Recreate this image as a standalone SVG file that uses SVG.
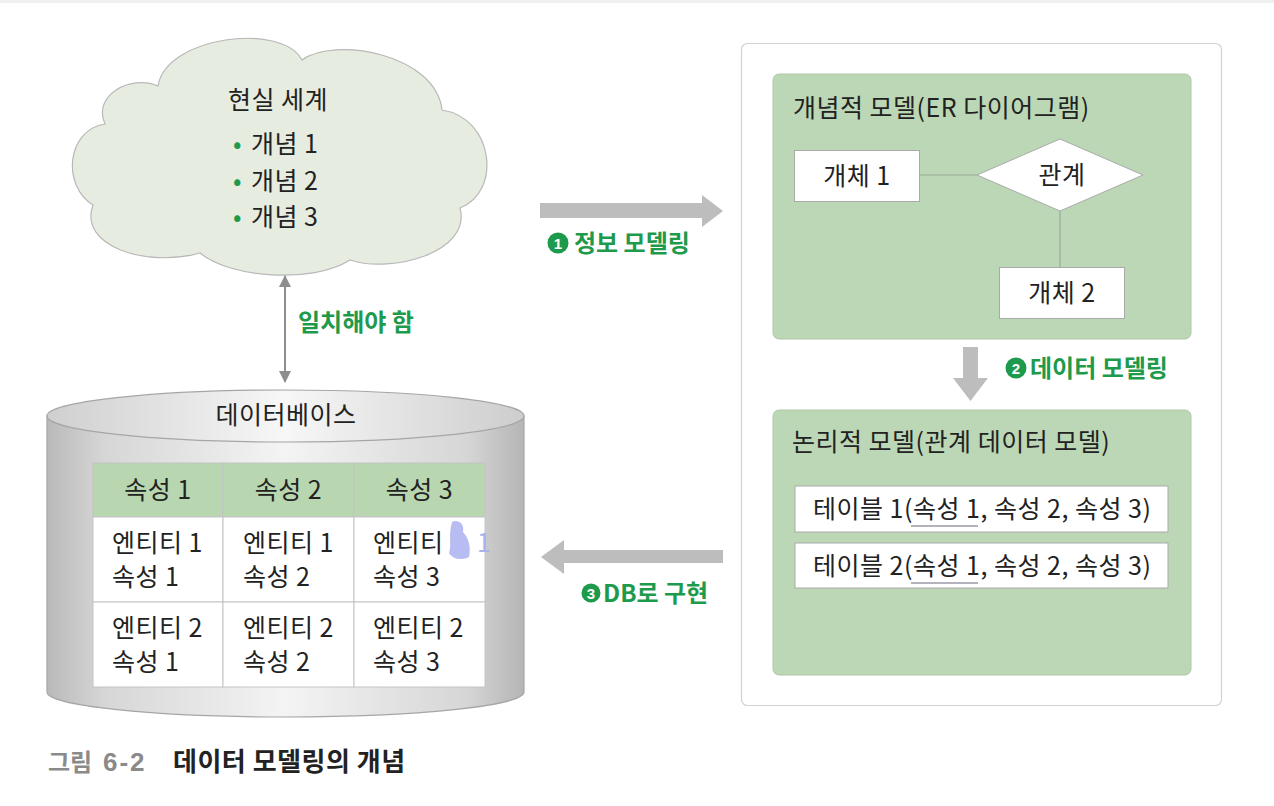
<svg xmlns="http://www.w3.org/2000/svg" width="1274" height="806" viewBox="0 0 1274 806">
<defs>
<style>
.t{font-family:"Noto Sans CJK KR","Noto Sans",sans-serif;font-size:25px;letter-spacing:0.5px;fill:#222}
.c{text-anchor:middle}
.g{font-family:"Noto Sans CJK KR","Noto Sans",sans-serif;font-size:24px;font-weight:bold;fill:#1e9a4c}
.nc{fill:#1e9a4c}
.nd{font-family:"Liberation Sans",sans-serif;font-size:15px;font-weight:bold;fill:#fff;text-anchor:middle}
.box{fill:#fff;stroke:#aaa;stroke-width:1}
.green{fill:#bcd7b5;stroke:#b0c9a9;stroke-width:1}
.fat{fill:#bdbdbd}
.cell{fill:#fff;stroke:#c4c4c4;stroke-width:1}
.hdr{fill:#b8d6b0;stroke:#c4c4c4;stroke-width:1}
.thin{stroke:#9aa99a;stroke-width:1.2;fill:none}
.ul{stroke:#9a9aa8;stroke-width:1.6}
</style>
<linearGradient id="body" x1="0" y1="0" x2="1" y2="0">
<stop offset="0" stop-color="#b9b9b9"/>
<stop offset="0.12" stop-color="#d6d6d6"/>
<stop offset="0.5" stop-color="#f4f4f4"/>
<stop offset="0.88" stop-color="#d6d6d6"/>
<stop offset="1" stop-color="#b5b5b5"/>
</linearGradient>
<linearGradient id="top" x1="0" y1="0" x2="1" y2="0">
<stop offset="0" stop-color="#cfcfcf"/>
<stop offset="0.5" stop-color="#f7f7f7"/>
<stop offset="1" stop-color="#cdcdcd"/>
</linearGradient>
<marker id="ah" viewBox="0 0 12 12" refX="11" refY="6" markerWidth="12" markerHeight="12" markerUnits="userSpaceOnUse" orient="auto-start-reverse">
<path d="M0,0 L12,6 L0,12 Z" fill="#8e8e8e"/>
</marker>
</defs>
<rect x="0" y="0" width="1274" height="806" fill="#fff"/>
<rect x="0" y="0" width="1274" height="3" fill="#f0f0f0"/>

<g id="cloud">
<path d="M105,124 C92,96 130,74 158,86 C166,36 282,22 302,60 C334,36 436,54 442,110 C494,118 502,192 460,208 C472,252 392,274 350,260 C312,284 230,278 200,253 C146,268 78,246 93,205 C62,186 66,130 105,124 Z" fill="#e6ecdf" stroke="#b8b8b8" stroke-width="1.2"/>
<text class="t c" x="278" y="109">현실 세계</text>
<text class="t" x="233" y="153"><tspan fill="#1e9a4c">•</tspan><tspan x="251">개념 1</tspan></text>
<text class="t" x="233" y="190"><tspan fill="#1e9a4c">•</tspan><tspan x="251">개념 2</tspan></text>
<text class="t" x="233" y="226"><tspan fill="#1e9a4c">•</tspan><tspan x="251">개념 3</tspan></text>
</g>

<g id="database">
<path d="M47,416 L47,692 A238.5,25 0 0 0 524,692 L524,416 Z" fill="url(#body)" stroke="#a6a6a6" stroke-width="1.2"/>
<ellipse cx="285.5" cy="416" rx="238.5" ry="26" fill="url(#top)" stroke="#a6a6a6" stroke-width="1.2"/>
<text class="t c" x="286" y="424">데이터베이스</text>
<g id="db-table">
<rect class="hdr" x="93" y="463" width="130" height="54"/>
<rect class="hdr" x="223" y="463" width="131" height="54"/>
<rect class="hdr" x="354" y="463" width="131" height="54"/>
<rect class="cell" x="93" y="517" width="130" height="85"/>
<rect class="cell" x="223" y="517" width="131" height="85"/>
<rect class="cell" x="354" y="517" width="131" height="85"/>
<rect class="cell" x="93" y="602" width="130" height="85"/>
<rect class="cell" x="223" y="602" width="131" height="85"/>
<rect class="cell" x="354" y="602" width="131" height="85"/>
<text class="t c" x="158" y="499">속성 1</text>
<text class="t c" x="288.5" y="499">속성 2</text>
<text class="t c" x="419.5" y="499">속성 3</text>
<text class="t" x="112" y="552">엔티티 1</text>
<text class="t" x="112" y="586">속성 1</text>
<text class="t" x="243" y="552">엔티티 1</text>
<text class="t" x="243" y="586">속성 2</text>
<path d="M452,522 C458,519 465,524 463,532 C469,538 471,548 469,557 C462,561 452,559 449,553 C452,545 448,536 452,522 Z" fill="#b7bdf2"/>
<text class="t" x="373" y="552">엔티티<tspan x="477" fill="#a9b1ee">1</tspan></text>
<text class="t" x="373" y="586">속성 3</text>
<text class="t" x="112" y="637">엔티티 2</text>
<text class="t" x="112" y="671">속성 1</text>
<text class="t" x="243" y="637">엔티티 2</text>
<text class="t" x="243" y="671">속성 2</text>
<text class="t" x="373" y="637">엔티티 2</text>
<text class="t" x="373" y="671">속성 3</text>
</g>
</g>

<g id="panel">
<rect x="741.5" y="43.5" width="480" height="662" rx="6" fill="#fff" stroke="#d2d2d2" stroke-width="1.2"/>
</g>

<g id="conceptual-model">
<rect class="green" x="773" y="74" width="418" height="265" rx="6"/>
<text class="t" x="793" y="117">개념적 모델(ER 다이어그램)</text>
</g>
<g id="entity1">
<rect class="box" x="794.5" y="150.5" width="125" height="51"/>
<text class="t c" x="857" y="185">개체 1</text>
</g>
<g id="relation">
<polygon points="977,175 1060,139 1143,175 1060,211" fill="#fff" stroke="#aaa" stroke-width="1"/>
<text class="t c" x="1062" y="184">관계</text>
</g>
<g id="entity2">
<rect class="box" x="999.5" y="267.5" width="125" height="51"/>
<text class="t c" x="1062" y="302">개체 2</text>
</g>

<g id="logical-model">
<rect class="green" x="773" y="410" width="418" height="265" rx="6"/>
<text class="t" x="792" y="451">논리적 모델(관계 데이터 모델)</text>
</g>
<g id="table1">
<rect class="box" x="795" y="486" width="373" height="46" stroke="#ccc"/>
<text class="t" x="813" y="518">테이블 1(속성 1, 속성 2, 속성 3)</text>
<line class="ul" x1="911" y1="526" x2="978" y2="526"/>
</g>
<g id="table2">
<rect class="box" x="795" y="543" width="373" height="45" stroke="#ccc"/>
<text class="t" x="813" y="575">테이블 2(속성 1, 속성 2, 속성 3)</text>
<line class="ul" x1="911" y1="583" x2="978" y2="583"/>
</g>

<g id="connectors">
<line class="thin" x1="920" y1="175" x2="977" y2="175"/>
<line class="thin" x1="1060" y1="211" x2="1060" y2="267"/>
<line x1="285" y1="276" x2="285" y2="382" stroke="#8e8e8e" stroke-width="2" marker-start="url(#ah)" marker-end="url(#ah)"/>
<polygon class="fat" points="540,203 702,203 702,195 723,211 702,227 702,218 540,218"/>
<polygon class="fat" points="963,347 978,347 978,378 988,378 970.5,401 953,378 963,378"/>
<polygon class="fat" points="723,550 564,550 564,540 541,557 564,574 564,563 723,563"/>
</g>

<g id="labels">
<text class="g" x="298" y="331">일치해야 함</text>
<circle class="nc" cx="558" cy="243" r="10.5"/>
<text class="nd" x="558" y="248.5">1</text>
<text class="g" x="574" y="252">정보 모델링</text>
<circle class="nc" cx="1016" cy="368" r="10.5"/>
<text class="nd" x="1016" y="373.5">2</text>
<text class="g" x="1030" y="377">데이터 모델링</text>
<circle class="nc" cx="591" cy="593" r="9.5"/>
<text class="nd" x="591" y="598.5">3</text>
<text class="g" x="603" y="602">DB로 구현</text>
</g>

<g id="caption">
<text x="48" y="771" style="font-family:'Noto Sans CJK KR','Noto Sans',sans-serif;font-size:24px;font-weight:bold"><tspan fill="#8a8a8a">그림 <tspan x="103" style="font-family:'Liberation Sans',sans-serif;font-size:26px" letter-spacing="2">6-2</tspan></tspan><tspan x="173" fill="#222" style="font-size:26px" letter-spacing="0.5">데이터 모델링의 개념</tspan></text>
</g>
</svg>
